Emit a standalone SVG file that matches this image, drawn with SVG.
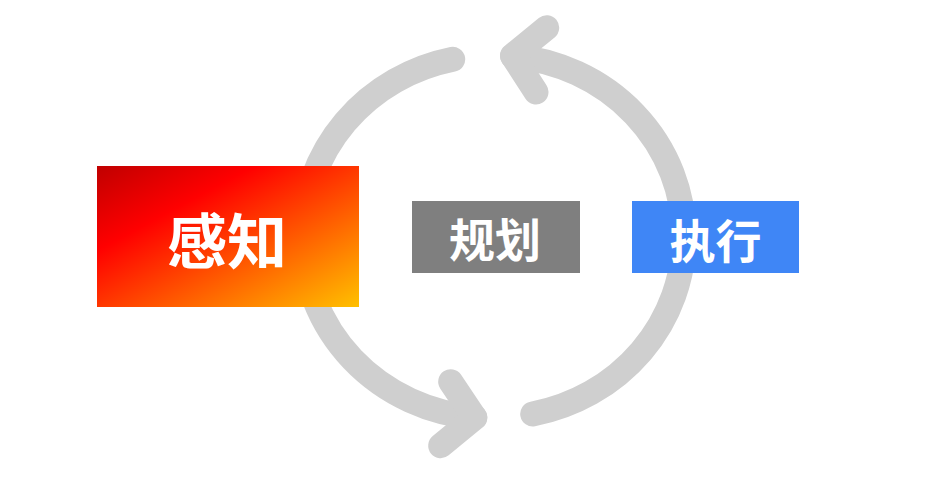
<svg xmlns="http://www.w3.org/2000/svg" width="934" height="500" viewBox="0 0 934 500">
  <style>
    .cycle { fill: none; stroke: #cfcfcf; stroke-width: 25; stroke-linecap: round; stroke-linejoin: round; }
    .label { fill: #ffffff; font-family: "Noto Sans CJK SC", "Noto Sans CJK JP", sans-serif; font-weight: 700; text-anchor: middle; dominant-baseline: central; }
  </style>
  <defs>
    <linearGradient id="senseGrad" x1="0" y1="0" x2="1" y2="1">
      <stop offset="0" stop-color="#c00000"/>
      <stop offset="0.3" stop-color="#ff0000"/>
      <stop offset="1" stop-color="#ffc000"/>
    </linearGradient>
  </defs>
  <rect width="934" height="500" fill="#ffffff"/>
  <g id="connectors">
    <path class="cycle" d="M 452.7 59.3 A 188 181 0 0 0 303 236.5 A 188 181 0 0 0 474.8 417.2"/>
    <path class="cycle" d="M 450.7 381.7 L 474.8 417.6 L 440.7 445.7"/>
    <path class="cycle" d="M 532.7 414 A 188 181 0 0 0 684 236.5 A 188 181 0 0 0 512.5 56.2"/>
    <path class="cycle" d="M 536 92 L 512.5 55.6 L 546.7 27.7"/>
  </g>
  <g id="node-sense">
    <rect x="97" y="166" width="262" height="141" fill="url(#senseGrad)"/>
    <text class="label" x="227" y="237.5" font-size="60">感知</text>
  </g>
  <g id="node-plan">
    <rect x="412" y="201" width="168" height="72" fill="#7f7f7f"/>
    <text class="label" x="495" y="237" font-size="46">规划</text>
  </g>
  <g id="node-act">
    <rect x="632" y="201" width="167" height="72" fill="#3f86f6"/>
    <text class="label" x="715.5" y="237.5" font-size="46">执行</text>
  </g>
</svg>
